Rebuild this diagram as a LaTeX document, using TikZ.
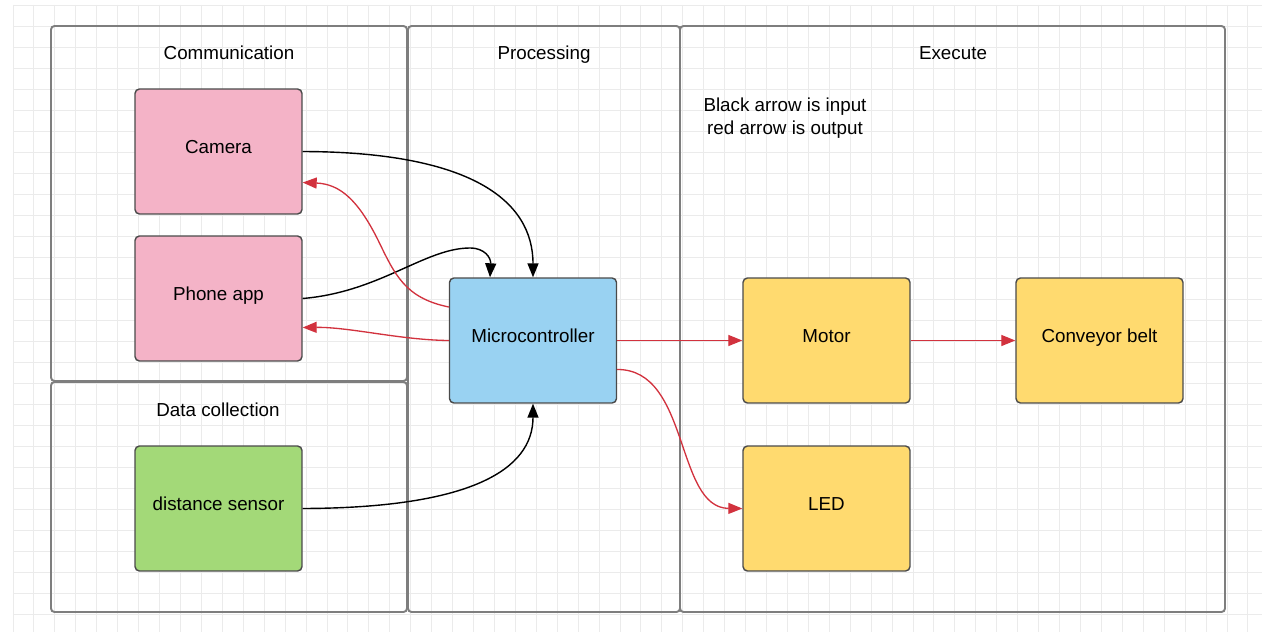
\documentclass[tikz,border=0pt]{standalone}
\usepackage{fontspec}
\setmainfont{Liberation Sans}
\usetikzlibrary{arrows.meta}
\definecolor{gridc}{HTML}{EBEBEB}
\definecolor{contc}{HTML}{7E7E7E}
\definecolor{boxc}{HTML}{4A4A4A}
\definecolor{pinkc}{HTML}{F4B3C7}
\definecolor{bluec}{HTML}{99D2F2}
\definecolor{yellowc}{HTML}{FFDA6F}
\definecolor{greenc}{HTML}{A3D978}
\definecolor{redc}{HTML}{D2323E}
\tikzset{
  container/.style={draw=contc,line width=1.1pt,rounded corners=2pt},
  title/.style={font=\fontsize{10.7}{13}\selectfont,inner sep=0pt,text height=7.7pt,text depth=0pt},
  block/.style={draw=boxc,line width=0.8pt,rounded corners=2.5pt,minimum width=3.34cm,minimum height=2.5cm,font=\fontsize{10.7}{13}\selectfont,inner sep=0pt,text height=7.7pt,text depth=5.4pt},
  inarrow/.style={draw=black,line width=0.8pt,-{Triangle[length=0.28cm,width=0.22cm]}},
  outarrow/.style={draw=redc,line width=0.75pt,-{Triangle[length=0.28cm,width=0.22cm]}},
}
\begin{document}
\begin{tikzpicture}[x=0.02cm,y=-0.02cm]
\useasboundingbox (0,0) rectangle (1264,635);
\fill[white] (0,0) rectangle (1264,635);
% grid
\foreach \i in {0,...,59} {\draw[gridc,line width=0.5pt] ({13+20.93*\i},5) -- ({13+20.93*\i},632);}
\foreach \j in {0,...,29} {\draw[gridc,line width=0.5pt] (13,{5+21*\j}) -- (1262,{5+21*\j});}
% containers
\draw[container] (51,26) rectangle (407,381);
\draw[container] (51,382) rectangle (407,612);
\draw[container] (408,26) rectangle (680,612);
\draw[container] (680,26) rectangle (1225,612);
\node[title] (tcomm) at (229,53) {Communication};
\node[title] (tproc) at (544,53) {Processing};
\node[title] (texec) at (953,53) {Execute};
\node[title] (tdata) at (218,410) {Data collection};
\node[title] (note1) at (785,105) {Black arrow is input};
\node[title] (note2) at (785,128) {red arrow is output};
% blocks
\node[block,fill=pinkc] (cam) at (218.5,151.5) {Camera};
\node[block,fill=pinkc] (phone) at (218.5,298.5) {Phone app};
\node[block,fill=greenc] (sensor) at (218.5,508.5) {distance sensor};
\node[block,fill=bluec] (mc) at (533,340.5) {Microcontroller};
\node[block,fill=yellowc] (motor) at (826.5,340.5) {Motor};
\node[block,fill=yellowc] (belt) at (1099.5,340.5) {Conveyor belt};
\node[block,fill=yellowc] (led) at (826.5,508.5) {LED};
% input arrows
\draw[inarrow] (cam.east) .. controls (470,152) and (533,200) .. (mc.north);
\draw[inarrow] (phone.east) .. controls (380,292) and (425,248) .. (470,248) .. controls (485,248) and (491,258) .. ([xshift=-0.86cm]mc.north);
\draw[inarrow] (sensor.east) .. controls (470,508) and (533,470) .. (mc.south);
% output arrows
\draw[outarrow] ([yshift=0.67cm]mc.west) .. controls (405,298) and (395,275) .. (378,240) .. controls (358,200) and (340,184) .. ([yshift=-0.62cm]cam.east);
\draw[outarrow] (mc.west) .. controls (400,340) and (350,327) .. ([yshift=-0.58cm]phone.east);
\draw[outarrow] (mc.east) -- (motor.west);
\draw[outarrow] ([yshift=-0.58cm]mc.east) .. controls (690,369) and (675,508) .. (led.west);
\draw[outarrow] (motor.east) -- (belt.west);
\end{tikzpicture}
\end{document}
